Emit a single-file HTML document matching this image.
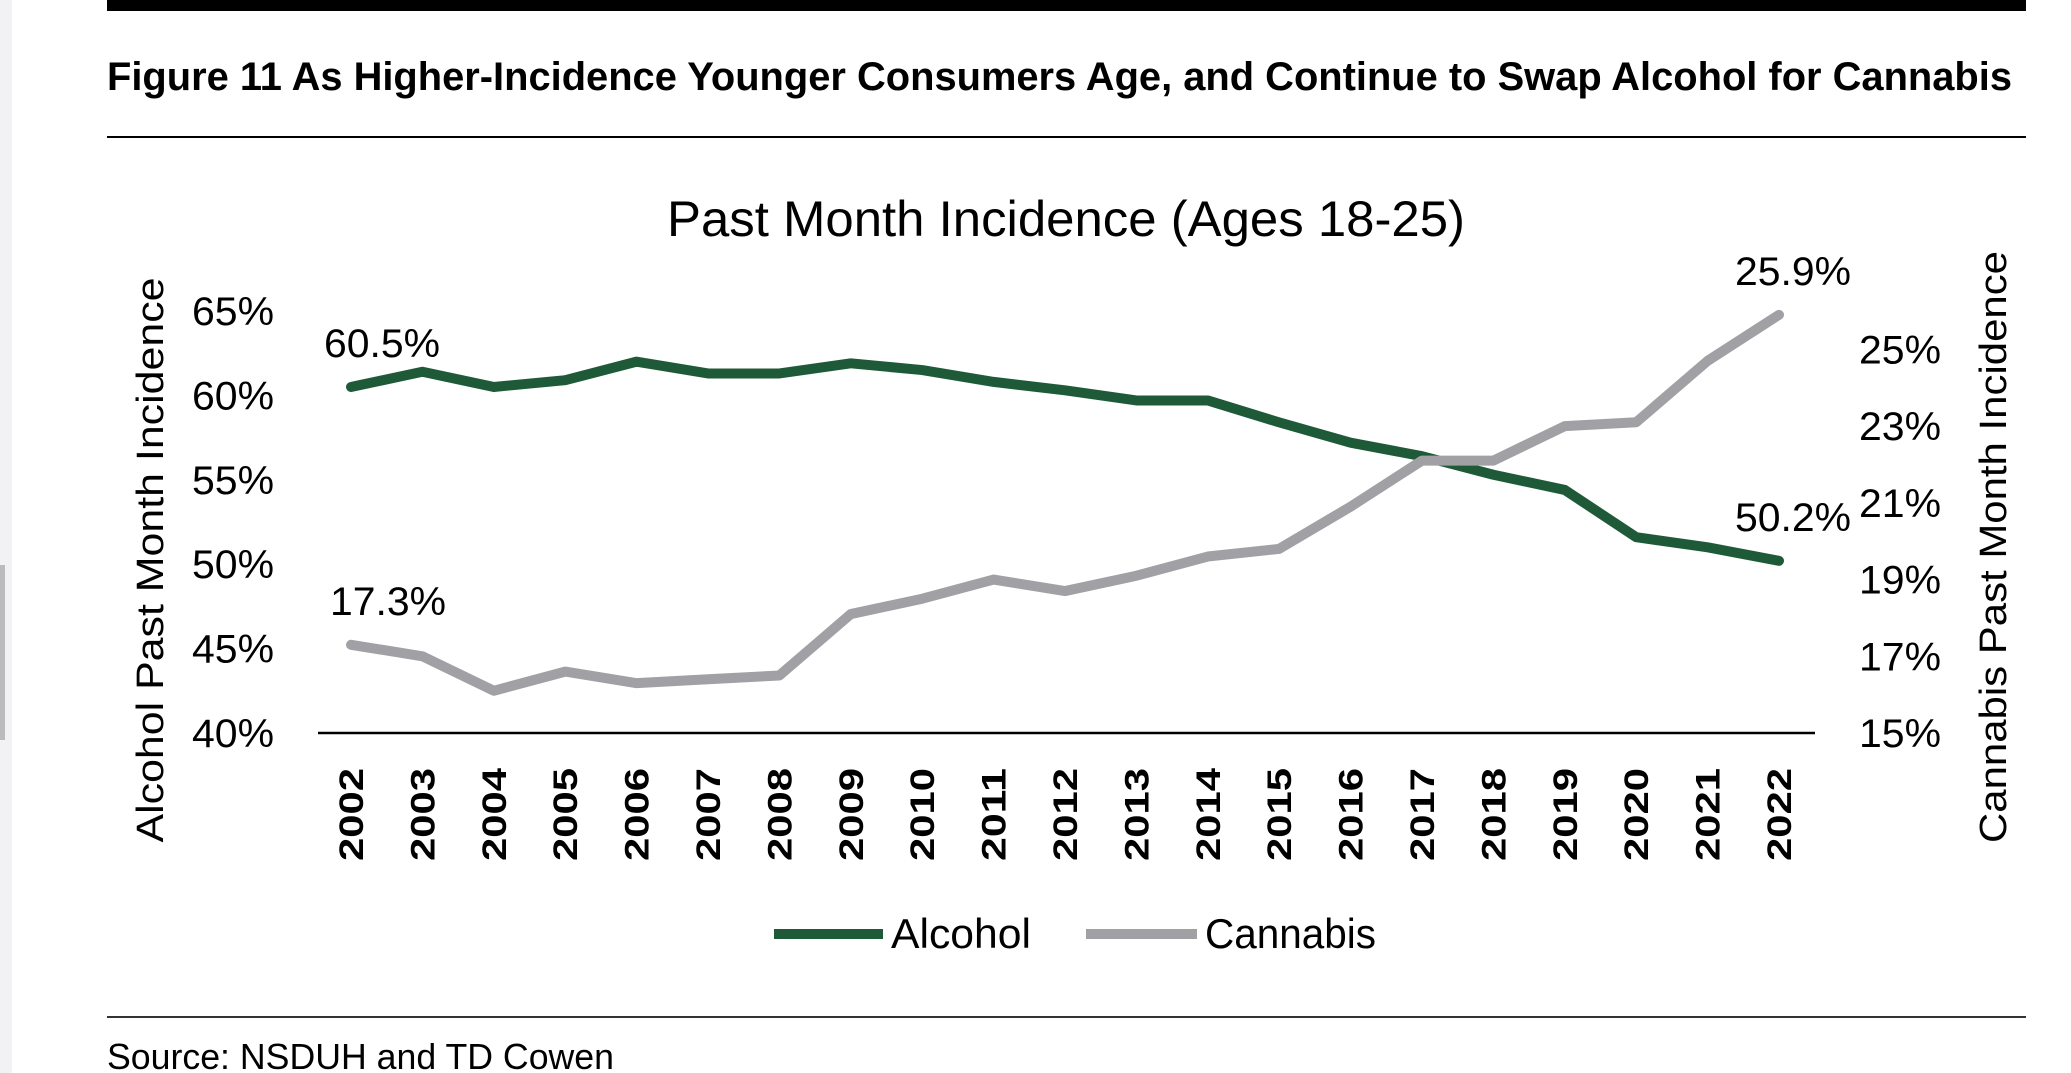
<!DOCTYPE html>
<html><head><meta charset="utf-8"><style>
html,body{margin:0;padding:0;background:#fff;}
svg{display:block;font-family:"Liberation Sans",sans-serif;}
</style></head><body>
<svg id="chart" width="2071" height="1073" viewBox="0 0 2071 1073" xmlns="http://www.w3.org/2000/svg">
<rect x="0" y="0" width="12" height="1073" fill="#f2f2f4"/>
<rect x="0" y="565" width="5" height="175" fill="#bbb"/>
<rect x="107" y="0" width="1919" height="11" fill="#000"/>
<text x="107" y="90" font-size="40" font-weight="bold" textLength="1905" lengthAdjust="spacingAndGlyphs">Figure 11 As Higher-Incidence Younger Consumers Age, and Continue to Swap Alcohol for Cannabis</text>
<rect x="107" y="136" width="1919" height="2" fill="#000"/>
<text x="667" y="236" font-size="50" textLength="798" lengthAdjust="spacingAndGlyphs">Past Month Incidence (Ages 18-25)</text>
<text transform="translate(163,560) rotate(-90)" text-anchor="middle" font-size="38" textLength="565" lengthAdjust="spacingAndGlyphs">Alcohol Past Month Incidence</text>
<text transform="translate(2006,547) rotate(-90)" text-anchor="middle" font-size="38" textLength="592" lengthAdjust="spacingAndGlyphs">Cannabis Past Month Incidence</text>
<g id="plot"></g>
<g>
<rect x="774" y="929" width="109" height="10" fill="#1f5a38"/>
<text x="891" y="948" font-size="42" textLength="140" lengthAdjust="spacingAndGlyphs">Alcohol</text>
<rect x="1086" y="929" width="111" height="10" fill="#a1a1a5"/>
<text x="1205" y="948" font-size="42" textLength="171" lengthAdjust="spacingAndGlyphs">Cannabis</text>
</g>
<rect x="107" y="1016" width="1919" height="2" fill="#333"/>
<text x="107" y="1069" font-size="36" textLength="507" lengthAdjust="spacingAndGlyphs">Source: NSDUH and TD Cowen</text>
</svg>
<script>
const years = [2002,2003,2004,2005,2006,2007,2008,2009,2010,2011,2012,2013,2014,2015,2016,2017,2018,2019,2020,2021,2022];
const alcohol = [60.5,61.4,60.5,60.9,62.0,61.3,61.3,61.9,61.5,60.8,60.3,59.7,59.7,58.4,57.2,56.4,55.3,54.4,51.6,51.0,50.2];
const cannabis = [17.3,17.0,16.1,16.6,16.3,16.4,16.5,18.1,18.5,19.0,18.7,19.1,19.6,19.8,20.9,22.1,22.1,23.0,23.1,24.7,25.9];
const leftTicks = [40,45,50,55,60,65];
const rightTicks = [15,17,19,21,23,25];

const NS = "http://www.w3.org/2000/svg";
const g = document.getElementById('plot');
const x0 = 351, x1 = 1779, yBase = 733, yTop65 = 311;
const xs = i => x0 + (x1 - x0) * i / (years.length - 1);
const yL = v => yBase - (v - 40) / 25 * (yBase - yTop65);
const yR = v => yBase - (v - 15) / 11 * (yBase - yTop65);
function mk(tag, attrs) { const e = document.createElementNS(NS, tag); for (const k in attrs) e.setAttribute(k, attrs[k]); g.appendChild(e); return e; }

leftTicks.forEach(v => {
  const t = mk('text', {x: 274, y: yL(v) + 14, 'text-anchor': 'end', 'font-size': 40, textLength: 82, lengthAdjust: 'spacingAndGlyphs'});
  t.textContent = v + '%';
  
  
});
rightTicks.forEach(v => {
  const t = mk('text', {x: 1859, y: yR(v) + 14, 'font-size': 40, textLength: 82, lengthAdjust: 'spacingAndGlyphs'});
  t.textContent = v + '%';
  
  
});
const ax = mk('line', {x1: 318, x2: 1815, y1: yBase, y2: yBase, stroke: '#000', 'stroke-width': 2.5});


years.forEach((yr, i) => {
  const t = mk('text', {transform: `translate(${xs(i) + 12},861) rotate(-90)`, 'font-size': 34, 'font-weight': 'bold', textLength: 93, lengthAdjust: 'spacingAndGlyphs'});
  t.textContent = yr;
  
  
});
const pa = mk('polyline', {points: alcohol.map((v, i) => xs(i) + ',' + yL(v)).join(' '), fill: 'none', stroke: '#1f5a38', 'stroke-width': 10, 'stroke-linejoin': 'round', 'stroke-linecap': 'round'});


const pc = mk('polyline', {points: cannabis.map((v, i) => xs(i) + ',' + yR(v)).join(' '), fill: 'none', stroke: '#a1a1a5', 'stroke-width': 10, 'stroke-linejoin': 'round', 'stroke-linecap': 'round'});



const n = years.length - 1;
const labs = [
  [xs(0) - 27, yL(alcohol[0]) - 30, alcohol[0]],
  [xs(0) - 21, yR(cannabis[0]) - 30, cannabis[0]],
  [xs(n) - 44, yR(cannabis[n]) - 30, cannabis[n]],
  [xs(n) - 44, yL(alcohol[n]) - 30, alcohol[n]]
];
labs.forEach(l => {
  const t = mk('text', {x: l[0], y: l[1], 'font-size': 40, textLength: 116, lengthAdjust: 'spacingAndGlyphs'});
  t.textContent = l[2].toFixed(1) + '%';
  
  
});
</script>
</body></html>
